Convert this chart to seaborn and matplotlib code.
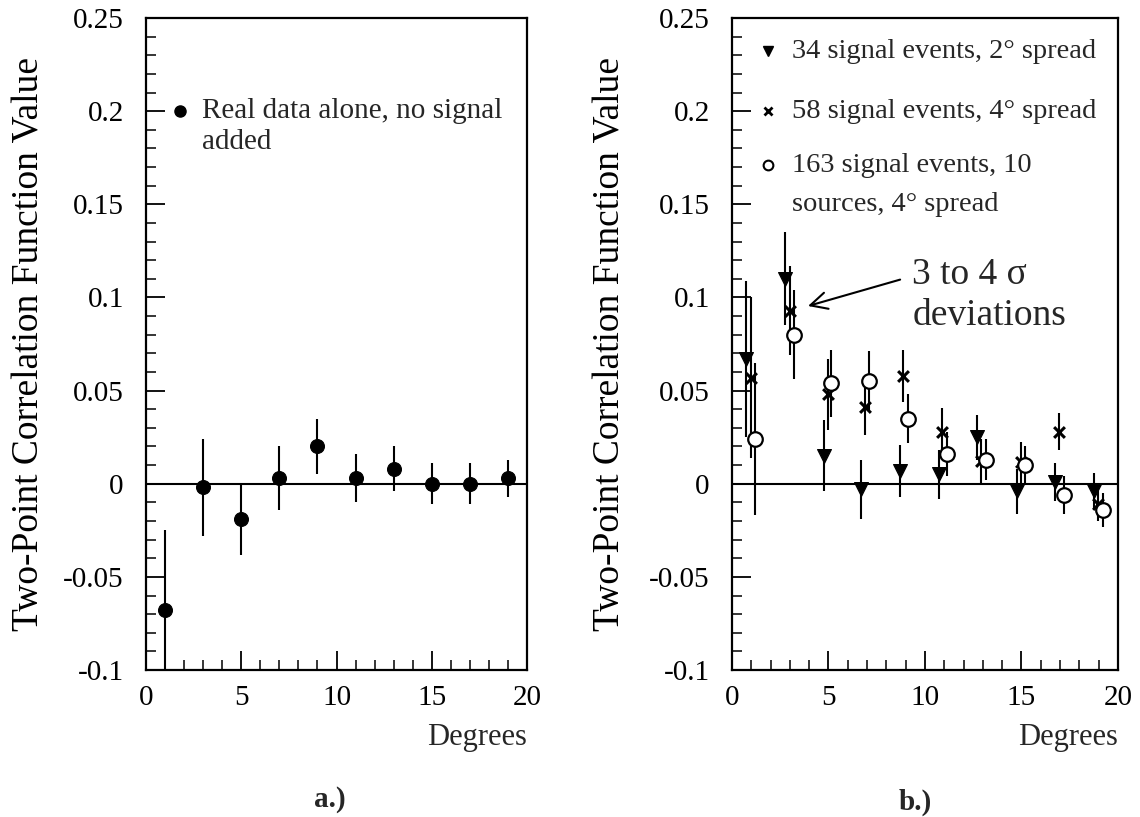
import numpy as np
import pandas as pd
import seaborn as sns
import matplotlib
matplotlib.use('Agg')
import matplotlib.pyplot as plt
from matplotlib.ticker import MultipleLocator, FuncFormatter

# data #
# a.) real data alone
real_x = [1, 3, 5, 7, 9, 11, 13, 15, 17, 19]
real_y = [-0.068, -0.002, -0.019, 0.003, 0.020, 0.003, 0.008, 0.000, 0.000, 0.003]
real_err = [0.043, 0.026, 0.019, 0.017, 0.015, 0.013, 0.012, 0.011, 0.011, 0.010]

# b.) signal injected
tri_x = [0.75, 2.75, 4.75, 6.7, 8.7, 10.7, 12.7, 14.75, 16.75, 18.75]
tri_y = [0.067, 0.110, 0.015, -0.003, 0.007, 0.005, 0.025, -0.004, 0.001, -0.004]
tri_err = [0.042, 0.025, 0.019, 0.016, 0.014, 0.013, 0.012, 0.012, 0.010, 0.010]

cross_x = [1.0, 3.0, 4.95, 6.9, 8.85, 10.9, 12.9, 14.95, 16.95, 18.95]
cross_y = [0.057, 0.093, 0.048, 0.041, 0.058, 0.028, 0.012, 0.0115, 0.028, -0.011]
cross_err = [0.043, 0.024, 0.019, 0.015, 0.014, 0.0125, 0.012, 0.011, 0.010, 0.009]

circ_x = [1.2, 3.2, 5.15, 7.1, 9.1, 11.15, 13.15, 15.2, 17.2, 19.2]
circ_y = [0.024, 0.080, 0.054, 0.055, 0.035, 0.016, 0.013, 0.010, -0.006, -0.014]
circ_err = [0.041, 0.024, 0.018, 0.016, 0.013, 0.012, 0.011, 0.010, 0.010, 0.009]

real_label = ['Real data alone, no signal', 'added']
signal_labels = ['34 signal events, 2\u00b0 spread',
                 '58 signal events, 4\u00b0 spread',
                 '163 signal events, 10',
                 'sources, 4\u00b0 spread']
ylab = 'Two-Point Correlation Function Value'

real_df = pd.DataFrame({'deg': real_x, 'val': real_y, 'err': real_err})
sig_df = pd.concat([
    pd.DataFrame({'deg': tri_x, 'val': tri_y, 'err': tri_err, 'set': 'tri'}),
    pd.DataFrame({'deg': cross_x, 'val': cross_y, 'err': cross_err, 'set': 'cross'}),
    pd.DataFrame({'deg': circ_x, 'val': circ_y, 'err': circ_err, 'set': 'circ'}),
])

sns.set_theme(style='ticks')
plt.rcParams['font.family'] = ['Liberation Serif', 'DejaVu Serif']

fig = plt.figure(figsize=(11.4, 8.17), dpi=100)
ax1 = fig.add_axes([0.1281, 0.1799, 0.3342, 0.7980])
ax2 = fig.add_axes([0.6421, 0.1799, 0.3386, 0.7980])

def style_axes(ax, label_x):
    ax.set_xlim(0, 20)
    ax.set_ylim(-0.1, 0.25)
    ax.xaxis.set_major_locator(MultipleLocator(5))
    ax.xaxis.set_minor_locator(MultipleLocator(1))
    ax.yaxis.set_major_locator(MultipleLocator(0.05))
    ax.yaxis.set_minor_locator(MultipleLocator(0.01))
    ax.yaxis.set_major_formatter(FuncFormatter(lambda v, p: '0' if abs(v) < 1e-9 else f'{v:g}'))
    ax.tick_params(which='both', direction='in', top=False, right=False,
                   colors='black', labelsize=21)
    ax.tick_params(which='major', length=14, width=1.3)
    ax.tick_params(which='minor', length=7, width=1.1)
    ax.tick_params(axis='y', pad=16)
    ax.tick_params(axis='x', pad=11)
    for s in ax.spines.values():
        s.set_linewidth(1.6)
        s.set_color('black')
    ax.axhline(0, color='black', lw=1.5, zorder=1)
    ax.set_xlabel('')
    ax.set_ylabel(ylab, fontsize=27, color='black')
    ax.yaxis.set_label_coords(label_x, 0.5)
    ax.text(1.0, -0.104, 'Degrees', transform=ax.transAxes, ha='right',
            va='center', fontsize=22)

# panel a
ax1.errorbar(real_df['deg'], real_df['val'], yerr=real_df['err'], fmt='none',
             ecolor='black', elinewidth=1.5, capsize=0, zorder=2)
sns.scatterplot(data=real_df, x='deg', y='val', marker='o', s=100, color='black',
                edgecolor='black', ax=ax1, zorder=3, legend=False)
style_axes(ax1, -0.262)
ax1.plot([0.089], [0.857], 'o', color='black', ms=8, transform=ax1.transAxes)
ax1.text(0.147, 0.857, real_label[0], transform=ax1.transAxes, va='center', fontsize=21)
ax1.text(0.147, 0.810, real_label[1], transform=ax1.transAxes, va='center', fontsize=21)

# panel b
ax2.errorbar(sig_df['deg'], sig_df['val'], yerr=sig_df['err'], fmt='none',
             ecolor='black', elinewidth=1.5, capsize=0, zorder=2)
tri = sig_df[sig_df['set'] == 'tri']
cross = sig_df[sig_df['set'] == 'cross']
circ = sig_df[sig_df['set'] == 'circ']
sns.scatterplot(data=tri, x='deg', y='val', marker='v', s=100, color='black',
                edgecolor='black', ax=ax2, zorder=3, legend=False)
sns.scatterplot(data=cross, x='deg', y='val', marker='x', s=60, color='black',
                linewidth=2.2, ax=ax2, zorder=3, legend=False)
sns.scatterplot(data=circ, x='deg', y='val', marker='o', s=110, color='white',
                edgecolor='black', linewidth=1.6, ax=ax2, zorder=4, legend=False)
style_axes(ax2, -0.27)

key_y = [0.949, 0.857, 0.774, 0.714]
ax2.plot([0.093], [key_y[0]], 'v', color='black', ms=7, transform=ax2.transAxes)
ax2.plot([0.093], [key_y[1]], 'x', color='black', ms=6, mew=2, transform=ax2.transAxes)
ax2.plot([0.093], [key_y[2]], 'o', mfc='white', mec='black', ms=7, mew=1.5,
         transform=ax2.transAxes)
for lab, yy in zip(signal_labels, key_y):
    ax2.text(0.155, yy, lab, transform=ax2.transAxes, va='center', fontsize=20.5)

ax2.text(9.35, 0.112, '3 to 4 \u03c3', ha='left', va='center', fontsize=27)
ax2.text(9.35, 0.090, 'deviations', ha='left', va='center', fontsize=27)
ax2.annotate('', xy=(3.8, 0.095), xytext=(8.85, 0.110),
             arrowprops=dict(arrowstyle='->', color='black', lw=1.5,
                             mutation_scale=30))

fig.text(0.289, 0.021, 'a.)', ha='center', va='center', fontsize=21, fontweight='bold')
fig.text(0.803, 0.018, 'b.)', ha='center', va='center', fontsize=21, fontweight='bold')

fig.savefig('out.png', dpi=100, facecolor='white')
